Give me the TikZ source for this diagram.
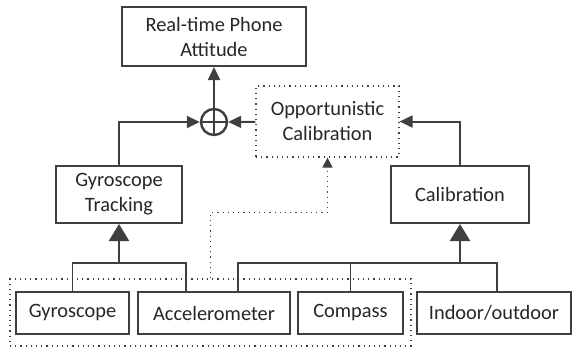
\documentclass[tikz,border=0pt]{standalone}
\usepackage{fontspec}
\setmainfont{Carlito}
\usepackage{xcolor}
\definecolor{cMain}{HTML}{3F3F3F}
\definecolor{cText}{HTML}{262626}
\usepackage{tikz}
\usetikzlibrary{positioning,arrows.meta,calc}
\tikzset{
  node-box/.style={draw=cMain,line width=1pt,rectangle,inner sep=0pt,
    align=center,text=cText,font=\fontsize{10.2}{12.5}\selectfont},
  node-dot/.style={node-box,draw=cMain,line width=0.6pt,dotted},
  node-sum/.style={draw=cMain,line width=1.2pt,circle,minimum size=13pt,inner sep=0pt},
  % 传感器连线（细线）与箭头
  line/.style={draw=cMain,line width=0.8pt},
  arrow/.style={-{Triangle[length=6.5pt,width=6pt]},line width=1pt,draw=cMain},
  arrow-big/.style={-{Triangle[length=8.5pt,width=10pt]},line width=1.2pt,draw=cMain},
  arrow-dot/.style={-{Triangle[length=5pt,width=5pt,sep=0pt]},line width=0.6pt,dotted,draw=cMain},
}

\begin{document}
\begin{tikzpicture}[x=0.5pt,y=-0.5pt]
  \useasboundingbox (0,0) rectangle (572,350);
  \node[node-box,minimum width=92pt,minimum height=29.5pt] (att) at (214,36.5) {Real-time Phone\\Attitude};
  \node[node-sum] (sum) at (214,122) {};
  \node[node-dot,minimum width=71.5pt,minimum height=35.5pt] (opp) at (327.5,121.5) {Opportunistic\\Calibration};
  \node[node-box,minimum width=63pt,minimum height=28.5pt] (gtrack) at (119,194.5) {Gyroscope\\Tracking};
  \node[node-box,minimum width=69pt,minimum height=28.5pt] (calib) at (460,194.5) {Calibration};
  \node[node-dot,minimum width=200.5pt,minimum height=33.5pt] (group) at (210.5,312.5) {};
  \node[node-box,minimum width=56.5pt,minimum height=21pt] (gyro) at (72.5,313) {Gyroscope};
  \node[node-box,minimum width=76pt,minimum height=21pt] (accel) at (214,313) {Accelerometer};
  \node[node-box,minimum width=52.5pt,minimum height=21pt] (comp) at (350.5,313) {Compass};
  \node[node-box,minimum width=77pt,minimum height=21pt] (inout) at (494,313) {Indoor/outdoor};
  \coordinate (gbar) at (119,263);
  \coordinate (cbar) at (460,263);

  \draw[line width=1.2pt,draw=cMain] (sum.north) -- (sum.south) (sum.west) -- (sum.east);
  \draw[arrow] (sum) -- (att);
  \draw[arrow] (opp) -- (sum);
  \draw[arrow] (gtrack.north) |- (sum.west);
  \draw[arrow] (calib.north) |- (opp.east);
  \draw[line] (gyro.north) |- (gbar) -| ([xshift=-14pt]accel.north);
  \draw[arrow-big] (gbar) -- (gtrack);
  \draw[line] ([xshift=12pt]accel.north) |- (cbar) -| ([xshift=1.5pt]inout.north);
  \draw[line] (comp.north) -- (comp.north |- cbar);
  \draw[arrow-big] (cbar) -- (calib);
  \draw[arrow-dot] (group.north) -- ++(0,-66) -| (opp.south);
\end{tikzpicture}
\end{document}
